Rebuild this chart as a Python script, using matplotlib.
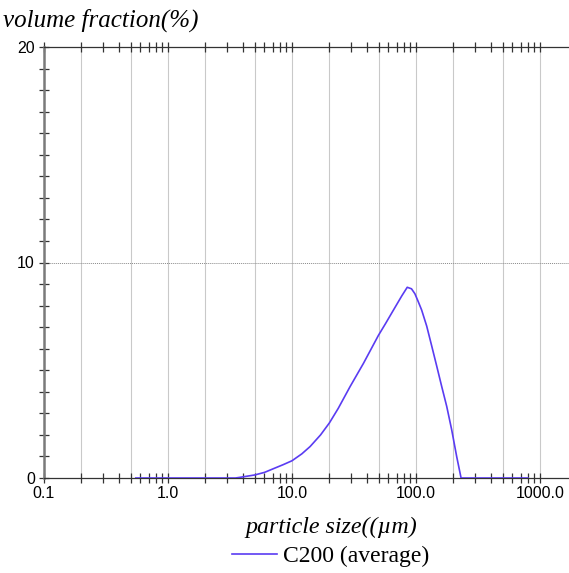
import numpy as np
import matplotlib.pyplot as plt
from matplotlib.ticker import LogLocator, FixedLocator, NullFormatter

# particle size (um) and volume fraction (%)
size_um = [0.55, 1.0, 2.0, 3.5, 3.8, 4.3, 5.0, 6.0, 7.0, 8.5, 10.0, 12.0, 14.0,
           17.0, 20.0, 23.6, 29.4, 37.7, 49.8, 57.0, 65.6, 76.8, 85.0, 92.0,
           98.0, 104.0, 111.0, 122.0, 134.0, 147.0, 161.0, 177.0, 194.0,
           213.0, 231.0, 300.0, 500.0, 800.0]
volume_pct = [0.0, 0.0, 0.0, 0.0, 0.03, 0.08, 0.14, 0.26, 0.42, 0.62, 0.80, 1.12, 1.46,
              2.0, 2.55, 3.23, 4.24, 5.32, 6.62, 7.18, 7.78, 8.45, 8.85, 8.78,
              8.55, 8.2, 7.8, 7.05, 6.12, 5.19, 4.26, 3.32, 2.24,
              0.99, 0.0, 0.0, 0.0, 0.0]
series_name = 'C200 (average)'

x_ticks = [0.1, 1.0, 10.0, 100.0, 1000.0]
x_ticklabels = ['0.1', '1.0', '10.0', '100.0', '1000.0']
y_ticks = [0, 10, 20]
grid_x = [m * 10.0 ** e for e in range(-1, 4) for m in (1, 2, 5)]

SERIF = ['Liberation Serif', 'DejaVu Serif']
SANS = ['Liberation Sans', 'DejaVu Sans']

fig = plt.figure(figsize=(5.69, 5.73), dpi=100)
ax = fig.add_axes([44 / 569, 1 - 478 / 573, 1 - 44 / 569, (478 - 47) / 573])

ax.set_xscale('log')
ax.set_xlim(0.1, 1714)
ax.set_ylim(0, 20)

for gx in grid_x:
    ax.axvline(gx, color='#c9c9c9', lw=0.8, zorder=0)
ax.axhline(10, color='#8a8a8a', lw=0.7, ls=(0, (1, 1)), zorder=0)

ax.plot(size_um, volume_pct, color='#5a3cf2', lw=1.2, label=series_name, zorder=3)

# axes frame: grey left spine, thin dark top/bottom, no right spine
ax.spines['right'].set_visible(False)
ax.spines['left'].set_color('#7a7a7a')
ax.spines['left'].set_linewidth(1.8)
for s in ('top', 'bottom'):
    ax.spines[s].set_color('#333333')
    ax.spines[s].set_linewidth(0.9)

ax.xaxis.set_major_locator(FixedLocator(x_ticks))
ax.xaxis.set_minor_locator(LogLocator(base=10, subs=np.arange(2, 10), numticks=20))
ax.xaxis.set_minor_formatter(NullFormatter())
ax.set_xticklabels(x_ticklabels, fontfamily=SANS, fontsize=11.5)
ax.tick_params(axis='x', which='both', direction='inout', length=7, width=0.9,
               color='#333333', top=True, pad=2)

ax.set_yticks(y_ticks)
ax.set_yticklabels([str(v) for v in y_ticks], fontfamily=SANS, fontsize=11.5)
ax.yaxis.set_minor_locator(FixedLocator(np.arange(0, 21, 1)))
ax.tick_params(axis='y', which='both', direction='inout', length=7, width=0.9,
               color='#333333', pad=3)

fig.text(3 / 569, 1 - 20 / 573, 'volume fraction(%)', fontfamily=SERIF,
         fontstyle='italic', fontsize=18, va='center', ha='left',
         bbox=dict(facecolor='white', edgecolor='none', pad=6), zorder=10)
fig.text(331 / 569, 1 - 527 / 573, 'particle size((µm)', fontfamily=SERIF,
         fontstyle='italic', fontsize=17.3, va='center', ha='center')

ax.legend(loc='center', bbox_to_anchor=(331 / 569, 1 - 556 / 573),
          bbox_transform=fig.transFigure, frameon=False,
          prop={'family': SERIF, 'size': 17}, handlelength=1.9, handletextpad=0.25,
          borderpad=0)

fig.savefig('out.png', dpi=100)
